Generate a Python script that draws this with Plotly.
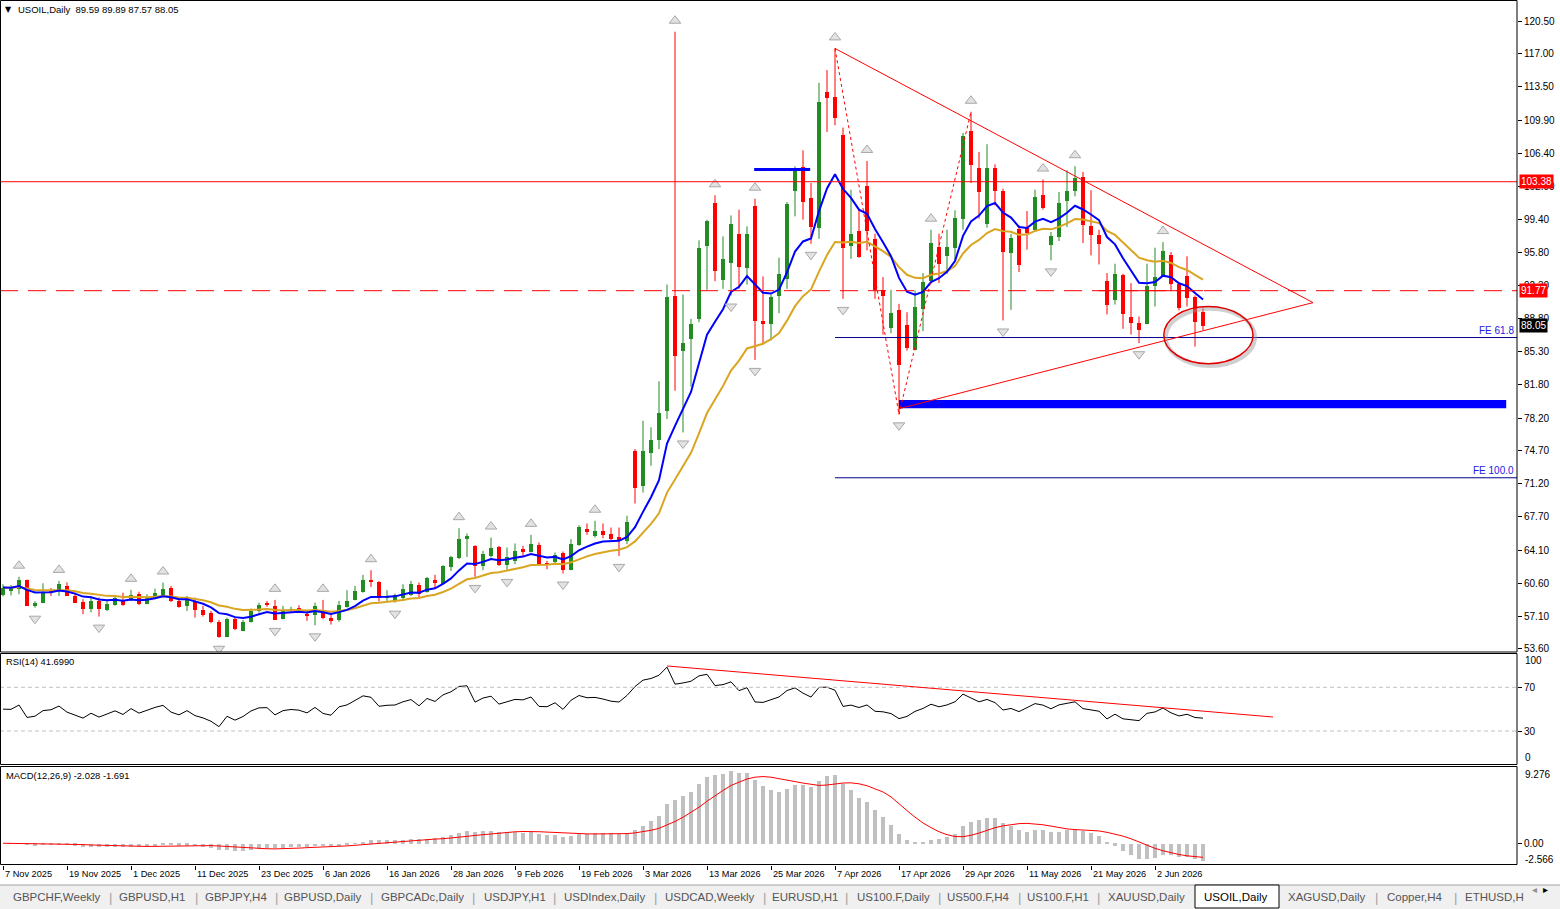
import numpy as np
import plotly.graph_objects as go

# ---------------- data (USOIL daily) ----------------
opens = [59.43, 59.9, 60.0, 60.96, 58.2, 58.54, 59.9, 59.96, 60.4, 59.25,
         58.7, 57.9, 58.8, 57.76, 58.3, 58.9, 58.9, 59.5, 58.47, 59.07,
         59.43, 60.14, 58.8, 58.19, 58.72, 57.76, 57.47, 56.58, 54.98, 56.83,
         55.62, 56.48, 57.65, 58.5, 58.26, 56.83, 57.65, 57.97, 57.4, 57.3,
         57.8, 57.0, 56.7, 58.08, 58.9, 59.71, 61.03, 60.78, 59.1, 58.72,
         59.07, 59.43, 60.5, 59.71, 61.03, 60.57, 62.35, 63.35, 65.4, 64.59,
         62.45, 63.52, 64.48, 62.56, 63.06, 64.34, 63.99, 64.77, 62.81, 62.92,
         63.88, 62.1, 64.77, 66.47, 65.65, 66.19, 65.94, 65.55, 65.19, 74.79,
         70.98, 74.54, 75.97, 79.06, 91.26, 85.39, 86.63, 88.77, 96.59, 101.22,
         92.93, 94.81, 97.91, 94.28, 100.86, 88.59, 88.23, 91.26, 93.04, 102.46,
         105.02, 101.68, 98.55, 112.96, 112.49, 108.44, 96.59, 98.2, 103.0, 97.3,
         91.86, 87.81, 89.73, 88.16, 85.47, 89.84, 92.86, 96.49, 95.53, 96.42,
         99.45, 108.8, 104.89, 98.98, 104.89, 102.4, 95.89, 98.38, 98.48, 98.27,
         102.04, 96.71, 97.56, 101.4, 102.4, 103.96, 98.73, 97.77, 92.86, 90.8,
         93.5, 89.02, 88.42, 88.31, 92.33, 93.4, 95.64, 92.51, 93.4, 91.16,
         89.59]
highs = [60.5, 60.4, 61.3, 61.0, 58.7, 60.6, 60.1, 60.85, 60.7, 59.6,
         58.9, 59.25, 59.1, 58.7, 59.3, 59.6, 59.9, 59.7, 59.43, 60.03,
         60.68, 60.32, 58.9, 59.25, 59.07, 58.19, 57.65, 56.7, 56.94, 57.05,
         56.7, 57.9, 58.54, 58.72, 58.83, 58.19, 58.1, 58.26, 57.65, 58.54,
         58.83, 57.3, 58.72, 59.86, 60.32, 61.5, 61.99, 60.85, 59.86, 59.5,
         60.5, 60.85, 60.68, 61.28, 61.5, 62.53, 63.52, 66.47, 65.9, 64.66,
         64.05, 65.47, 64.59, 64.41, 64.84, 64.59, 65.76, 64.95, 62.99, 63.88,
         63.99, 65.3, 66.79, 66.97, 67.26, 66.97, 66.54, 66.54, 67.79, 74.9,
         77.92, 77.21, 82.12, 92.43, 119.36, 91.36, 88.77, 97.13, 99.33, 101.93,
         97.55, 99.79, 100.4, 98.62, 101.57, 93.29, 91.36, 95.28, 101.22, 105.02,
         106.73, 103.25, 113.92, 115.27, 117.58, 109.15, 102.53, 100.4, 105.59, 97.84,
         93.22, 91.86, 90.37, 89.48, 91.8, 93.65, 98.27, 97.84, 98.27, 100.33,
         108.59, 110.83, 106.56, 107.38, 105.24, 102.65, 97.84, 98.73, 100.26, 102.54,
         103.61, 98.02, 102.29, 104.6, 105.03, 104.43, 102.47, 98.27, 93.65, 94.64,
         93.58, 92.58, 89.02, 94.64, 96.35, 96.95, 95.89, 92.58, 95.43, 91.27,
         89.89]
lows = [59.2, 59.3, 59.43, 58.2, 58.0, 58.47, 59.25, 59.25, 59.25, 58.5,
        57.3, 57.5, 57.05, 57.65, 58.2, 58.2, 58.7, 58.26, 58.36, 58.9,
        59.25, 58.6, 58.0, 57.65, 56.94, 57.05, 56.34, 54.8, 54.91, 55.6,
        55.52, 56.41, 57.47, 58.1, 56.7, 56.76, 57.5, 57.65, 56.6, 56.12,
        56.76, 56.2, 56.5, 58.01, 58.79, 59.6, 60.21, 58.65, 58.72, 58.54,
        58.79, 59.25, 59.07, 59.6, 60.07, 60.5, 61.92, 63.17, 63.4, 61.28,
        61.99, 63.35, 62.45, 61.92, 62.63, 63.52, 63.88, 62.56, 62.1, 62.63,
        61.64, 61.99, 64.59, 65.76, 65.47, 65.4, 65.19, 63.52, 64.77, 69.1,
        70.27, 73.12, 74.9, 78.1, 81.12, 76.67, 81.55, 88.41, 91.86, 92.79,
        91.97, 91.26, 91.97, 92.43, 84.4, 86.1, 86.46, 89.37, 91.97, 99.69,
        99.33, 96.77, 97.3, 108.69, 109.4, 90.9, 95.17, 95.28, 96.06, 90.9,
        87.1, 87.24, 78.6, 85.39, 85.4, 87.46, 92.51, 92.58, 93.58, 95.0,
        98.27, 103.25, 99.45, 98.48, 100.87, 88.6, 89.73, 93.75, 96.14, 98.2,
        100.41, 95.0, 97.06, 98.56, 101.83, 96.85, 95.53, 94.57, 89.24, 90.3,
        87.71, 87.1, 86.18, 88.24, 90.09, 93.4, 91.72, 89.66, 90.09, 85.82,
        87.57]
closes = [60.14, 60.1, 60.96, 58.26, 58.5, 59.61, 59.8, 60.57, 59.3, 58.6,
          57.9, 58.8, 57.9, 58.47, 59.07, 58.3, 59.43, 58.47, 59.07, 59.61,
          60.03, 58.72, 58.12, 58.9, 57.83, 57.3, 56.48, 54.98, 56.83, 55.77,
          56.48, 57.65, 58.36, 58.4, 56.76, 57.65, 57.9, 57.76, 57.2, 58.26,
          57.0, 56.6, 58.29, 58.72, 59.79, 61.03, 60.78, 59.07, 59.3, 59.36,
          60.07, 60.57, 59.5, 61.21, 60.68, 62.45, 63.42, 65.37, 65.65, 62.45,
          63.77, 64.41, 62.56, 63.42, 64.05, 63.95, 64.84, 62.7, 62.63, 63.7,
          62.1, 64.84, 66.61, 66.08, 66.19, 65.83, 65.37, 65.19, 67.15, 70.8,
          74.72, 75.97, 78.81, 91.15, 84.86, 86.28, 88.3, 96.34, 99.26, 93.92,
          95.17, 98.98, 94.35, 97.91, 88.59, 88.23, 91.15, 93.57, 101.11, 104.78,
          101.32, 98.62, 111.89, 112.35, 110.22, 96.34, 97.84, 95.42, 98.2, 91.86,
          91.26, 89.48, 83.9, 85.75, 90.09, 92.79, 96.95, 94.71, 96.49, 99.55,
          108.34, 105.24, 102.29, 104.89, 102.4, 95.99, 97.42, 94.57, 98.02, 101.83,
          100.62, 97.67, 101.12, 102.4, 103.82, 98.84, 97.77, 96.85, 90.3, 93.58,
          89.3, 88.42, 87.6, 92.33, 93.29, 96.06, 92.51, 90.02, 91.09, 88.53,
          88.05]

date_labels = ["7 Nov 2025", "19 Nov 2025", "1 Dec 2025", "11 Dec 2025", "23 Dec 2025",
               "6 Jan 2026", "16 Jan 2026", "28 Jan 2026", "9 Feb 2026", "19 Feb 2026",
               "3 Mar 2026", "13 Mar 2026", "25 Mar 2026", "7 Apr 2026", "17 Apr 2026",
               "29 Apr 2026", "11 May 2026", "21 May 2026", "2 Jun 2026"]
date_label_bars = [0, 8, 16, 24, 32, 40, 48, 56, 64, 72, 80, 88, 96, 104, 112, 120, 128, 136, 144]
price_ticks = [120.50, 117.00, 113.50, 109.90, 106.40, 102.90, 99.40, 95.80, 92.30, 88.80,
               85.30, 81.80, 78.20, 74.70, 71.20, 67.70, 64.10, 60.60, 57.10, 53.60]

# drawn objects (price / bar-index values)
level_solid = 103.38
level_dashed = 91.77
fe_618 = 86.78
fe_1000 = 71.84
tri_upper = [(104, 117.58), (163.75, 90.5)]
tri_lower = [(112, 79.2), (163.75, 90.5)]
fe_path = [(104, 117.58), (112, 78.6), (121, 110.83)]
blue_zone = (112, 187.9, 79.24, 80.13)
blue_seg = (93.9, 100.9, 104.67)
ellipse = (145.1, 156.25, 84.0, 90.1)
rsi_trend = [(83, 89.5), (158.75, 42.8)]
macd_range = (-2.566, 9.276)

tabs = ["GBPCHF,Weekly", "GBPUSD,H1", "GBPJPY,H4", "GBPUSD,Daily", "GBPCADc,Daily",
        "USDJPY,H1", "USDIndex,Daily", "USDCAD,Weekly", "EURUSD,H1", "US100.F,Daily",
        "US500.F,H4", "US100.F,H1", "XAUUSD,Daily", "USOIL,Daily", "XAGUSD,Daily",
        "Copper,H4", "ETHUSD,H"]
selected_tab = "USOIL,Daily"

# ---------------- indicators ----------------
c = np.array(closes)
n = len(c)
bars = np.arange(n)


def ema(v, p):
    a = 2.0 / (p + 1)
    out = [v[0]]
    for val in v[1:]:
        out.append(out[-1] + a * (val - out[-1]))
    return np.array(out)


ma_fast = ema(c, 9)
ma_slow = ema(c, 20)

d = np.diff(c)
gains = np.maximum(d, 0)
losses = np.maximum(-d, 0)
seed = np.mean(np.abs(d[:14])) / 2
ag, al = seed, seed
rsi = [50.0]
for gi, li in zip(gains, losses):
    ag = (ag * 13 + gi) / 14
    al = (al * 13 + li) / 14
    rsi.append(100 - 100 / (1 + ag / al) if al > 0 else 100.0)
rsi = np.array(rsi)

macd = ema(c, 12) - ema(c, 26)
signal = np.array([np.mean(macd[max(0, i - 8):i + 1]) for i in range(n)])

Hh = np.array(highs)
Ll = np.array(lows)
up_fr = [i for i in range(2, n - 2) if Hh[i] > max(Hh[i - 2], Hh[i - 1]) and Hh[i] >= max(Hh[i + 1], Hh[i + 2])]
dn_fr = [i for i in range(2, n - 2) if Ll[i] < min(Ll[i - 2], Ll[i - 1]) and Ll[i] <= min(Ll[i + 1], Ll[i + 2])]

# ---------------- geometry helpers ----------------
W, H = 1560, 909
PLOT_R = 1517


def px(x):
    return x / W


def py(y):
    return 1 - y / H


PPU = 9.372  # pixels per price unit in the main window
GREEN = "#228B22"
RED = "#FF0000"

fig = go.Figure()

# MACD histogram + signal
fig.add_trace(go.Bar(x=bars, y=macd, width=0.42, marker=dict(color="#C0C0C0", line=dict(width=0)),
                     yaxis="y3", hoverinfo="skip"))
fig.add_trace(go.Scatter(x=bars, y=signal, mode="lines", line=dict(color=RED, width=1), yaxis="y3",
                         hoverinfo="skip"))
# RSI
fig.add_trace(go.Scatter(x=bars, y=rsi, mode="lines", line=dict(color="black", width=1), yaxis="y2",
                         hoverinfo="skip"))

# candles
o = np.array(opens)
for is_up, col in ((True, GREEN), (False, RED)):
    idx = [i for i in range(n) if (c[i] >= o[i]) == is_up]
    wx, wy = [], []
    for i in idx:
        wx += [i, i, None]
        wy += [lows[i], highs[i], None]
    fig.add_trace(go.Scatter(x=wx, y=wy, mode="lines", line=dict(color=col, width=1), hoverinfo="skip"))
    fig.add_trace(go.Bar(x=idx, y=[max(abs(c[i] - o[i]), 0.1) for i in idx],
                         base=[min(c[i], o[i]) for i in idx], width=0.62,
                         marker=dict(color=col, line=dict(width=0)), hoverinfo="skip"))

# moving averages
fig.add_trace(go.Scatter(x=bars, y=ma_slow, mode="lines", line=dict(color="#DAA520", width=2), hoverinfo="skip"))
fig.add_trace(go.Scatter(x=bars, y=ma_fast, mode="lines", line=dict(color="#0000FF", width=2), hoverinfo="skip"))

# fractals
off = 11 / PPU
fig.add_trace(go.Scatter(x=up_fr, y=[highs[i] + off for i in up_fr], mode="markers",
                         marker=dict(symbol="triangle-up", size=10, color="#E2E2E2",
                                     line=dict(color="#A8A8A8", width=1)), hoverinfo="skip"))
fig.add_trace(go.Scatter(x=dn_fr, y=[lows[i] - off for i in dn_fr], mode="markers",
                         marker=dict(symbol="triangle-down", size=10, color="#E2E2E2",
                                     line=dict(color="#A8A8A8", width=1)), hoverinfo="skip"))

shapes = []
# horizontal levels
shapes.append(dict(type="line", xref="x domain", yref="y", x0=0, x1=1, y0=level_solid, y1=level_solid,
                   line=dict(color=RED, width=1)))
shapes.append(dict(type="line", xref="x domain", yref="y", x0=0, x1=1, y0=level_dashed, y1=level_dashed,
                   line=dict(color=RED, width=1, dash="18px,10px")))
shapes.append(dict(type="line", xref="x", yref="y", x0=137, x1=150, y0=level_dashed, y1=level_dashed,
                   line=dict(color=RED, width=1)))
# FE levels
for lv in (fe_618, fe_1000):
    shapes.append(dict(type="line", xref="x", yref="y", x0=104, x1=189.25, y0=lv, y1=lv,
                       line=dict(color="#000090", width=1)))
# blue zone + segment
bz = blue_zone
shapes.append(dict(type="rect", xref="x", yref="y", x0=bz[0], x1=bz[1], y0=bz[2], y1=bz[3],
                   fillcolor="#0000FF", line=dict(width=0)))
shapes.append(dict(type="line", xref="x", yref="y", x0=blue_seg[0], x1=blue_seg[1], y0=blue_seg[2],
                   y1=blue_seg[2], line=dict(color="#0000FF", width=3)))
# triangle
for seg in (tri_upper, tri_lower):
    shapes.append(dict(type="line", xref="x", yref="y", x0=seg[0][0], y0=seg[0][1], x1=seg[1][0], y1=seg[1][1],
                       line=dict(color=RED, width=1)))
# FE dotted path
for a, b in zip(fe_path[:-1], fe_path[1:]):
    shapes.append(dict(type="line", xref="x", yref="y", x0=a[0], y0=a[1], x1=b[0], y1=b[1],
                       line=dict(color=RED, width=1, dash="dot")))
# ellipse with soft shadow
e = ellipse
shapes.append(dict(type="circle", xref="x", yref="y", x0=e[0] + 0.25, x1=e[1] + 0.25, y0=e[2] - 0.25,
                   y1=e[3] - 0.25, line=dict(color="rgba(150,150,150,0.45)", width=4)))
shapes.append(dict(type="circle", xref="x", yref="y", x0=e[0], x1=e[1], y0=e[2], y1=e[3],
                   line=dict(color="#E00000", width=1.5)))
# RSI levels & trend
for lv in (70, 30):
    shapes.append(dict(type="line", xref="x domain", yref="y2", x0=0, x1=1, y0=lv, y1=lv,
                       line=dict(color="#C0C0C0", width=1, dash="4px,3px")))
shapes.append(dict(type="line", xref="x", yref="y2", x0=rsi_trend[0][0], y0=rsi_trend[0][1],
                   x1=rsi_trend[1][0], y1=rsi_trend[1][1], line=dict(color=RED, width=1)))

# panel frames
for (y0, y1) in ((0.5, 652), (653.5, 764.5), (766.5, 864.5)):
    shapes.append(dict(type="rect", xref="paper", yref="paper", x0=px(0.5), x1=px(PLOT_R), y0=py(y1), y1=py(y0),
                       line=dict(color="black", width=1), layer="above"))
# tab bar
shapes.append(dict(type="rect", xref="paper", yref="paper", x0=0, x1=1, y0=0, y1=py(885),
                   fillcolor="#F0F0F0", line=dict(width=0), layer="below"))
shapes.append(dict(type="line", xref="paper", yref="paper", x0=0, x1=1, y0=py(885), y1=py(885),
                   line=dict(color="#A0A0A0", width=1)))
shapes.append(dict(type="rect", xref="paper", yref="paper", x0=px(1195), x1=px(1279), y0=py(908), y1=py(885),
                   fillcolor="white", line=dict(color="black", width=1)))

ann = []
FONT = "Liberation Sans, Arial, sans-serif"
ann.append(dict(xref="paper", yref="paper", x=px(3), y=py(9), text="\u25BC", showarrow=False,
                xanchor="left", yanchor="middle", font=dict(size=8, color="black", family="DejaVu Sans")))
ann.append(dict(xref="paper", yref="paper", x=px(16), y=py(9),
                text="USOIL,Daily  %.2f %.2f %.2f %.2f" % (opens[-1], highs[-1], lows[-1], closes[-1]),
                showarrow=False, xanchor="left", yanchor="middle", font=dict(size=9.5, color="black", family=FONT)))
ann.append(dict(xref="paper", yref="paper", x=px(4), y=py(662), text="RSI(14) %.4f" % 41.6990, showarrow=False,
                xanchor="left", yanchor="middle", font=dict(size=9.3, color="black", family=FONT)))
ann.append(dict(xref="paper", yref="paper", x=px(4), y=py(775), text="MACD(12,26,9) -2.028 -1.691",
                showarrow=False, xanchor="left", yanchor="middle", font=dict(size=9.4, color="black", family=FONT)))
# price boxes
for val, bg in ((level_solid, RED), (level_dashed, RED), (closes[-1], "black")):
    ann.append(dict(xref="paper", yref="y", x=px(1519), y=val, text="%.2f" % val, showarrow=False,
                    xanchor="left", yanchor="middle", bgcolor=bg, borderpad=1,
                    font=dict(size=10, color="white", family=FONT)))
# FE labels
for lv, txt in ((fe_618, "FE 61.8"), (fe_1000, "FE 100.0")):
    ann.append(dict(xref="paper", yref="y", x=px(PLOT_R - 1), y=lv, text=txt, showarrow=False,
                    xanchor="right", yanchor="bottom", font=dict(size=10, color="#2020E0", family=FONT)))
# RSI / MACD axis labels at extremes
for txt, yy in (("100", 660), ("0", 757), ("9.276", 774), ("-2.566", 859)):
    ann.append(dict(xref="paper", yref="paper", x=px(1523), y=py(yy), text=txt, showarrow=False,
                    xanchor="left", yanchor="middle", font=dict(size=10, color="black", family=FONT)))
# date labels
for b, t in zip(date_label_bars, date_labels):
    ann.append(dict(xref="x", yref="paper", x=b - 0.05, y=py(874), text=t, showarrow=False,
                    xanchor="left", yanchor="middle", font=dict(size=9.2, color="black", family=FONT)))
# tabs
tab_centers = [57, 152, 236, 323, 423, 515, 604, 709, 805, 893, 978, 1058, 1146, 1236, 1327, 1415, 1494]
sep_x = [110, 196, 276, 371, 474, 554, 655, 764, 847, 939, 1019, 1098, 1376, 1455]
for t, cx in zip(tabs, tab_centers):
    ann.append(dict(xref="paper", yref="paper", x=px(cx), y=py(897), text=t, showarrow=False,
                    xanchor="center", yanchor="middle",
                    font=dict(size=11.5, color="black" if t == selected_tab else "#555555", family=FONT)))
for sx in sep_x:
    ann.append(dict(xref="paper", yref="paper", x=px(sx), y=py(897), text="|", showarrow=False,
                    xanchor="center", yanchor="middle", font=dict(size=13, color="#A0A0A0", family=FONT)))
ann.append(dict(xref="paper", yref="paper", x=px(1539), y=py(897), text="\u25C2", showarrow=False,
                font=dict(size=10, color="#909090", family="DejaVu Sans")))
ann.append(dict(xref="paper", yref="paper", x=px(1550), y=py(897), text="\u25B8", showarrow=False,
                font=dict(size=10, color="black", family="DejaVu Sans")))

axis_common = dict(side="right", anchor="x", showgrid=False, zeroline=False, ticks="outside", ticklen=4,
                   tickcolor="black", tickfont=dict(size=10, color="black", family=FONT), automargin=False,
                   fixedrange=True, showline=False)

fig.update_layout(
    width=W, height=H, margin=dict(l=0, r=0, t=0, b=0), showlegend=False,
    plot_bgcolor="white", paper_bgcolor="white", barmode="overlay", bargap=0,
    xaxis=dict(domain=[0, px(PLOT_R)], range=[-0.375, 189.25], anchor="y3", showgrid=False, zeroline=False,
               tickvals=date_label_bars, ticks="outside", ticklen=4, tickcolor="black", showticklabels=False,
               showline=False, fixedrange=True),
    yaxis=dict(domain=[py(652), py(0.5)], range=[120.5 - (651 - 21) / PPU, 120.5 + 20.5 / PPU],
               tickvals=price_ticks, ticktext=["%.2f" % v for v in price_ticks], **axis_common),
    yaxis2=dict(domain=[py(763.8), py(654.5)], range=[0, 100], tickvals=[70, 30], **axis_common),
    yaxis3=dict(domain=[py(864.5), py(766.5)], range=list(macd_range), tickvals=[0], ticktext=["0.00"],
                **axis_common),
    shapes=shapes, annotations=ann, hovermode=False,
)

fig.write_html("out.html")
